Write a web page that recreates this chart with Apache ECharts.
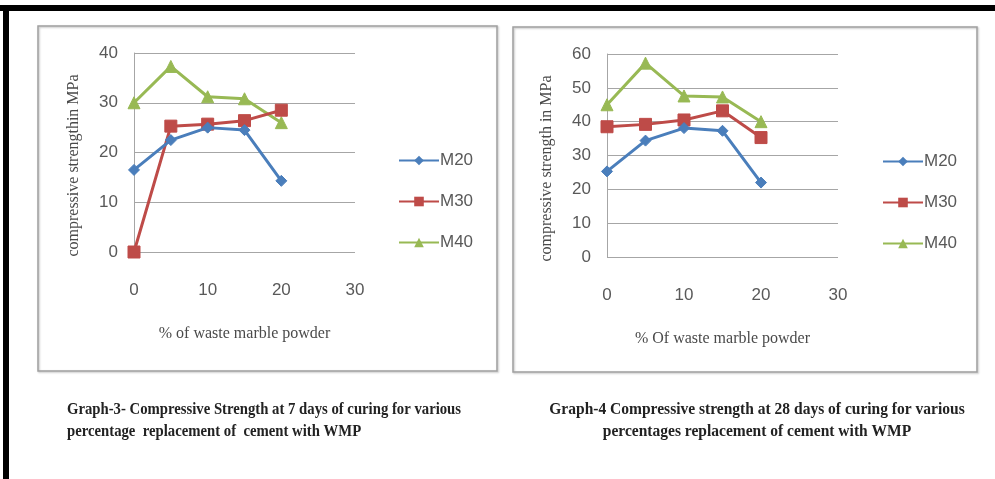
<!DOCTYPE html>
<html>
<head>
<meta charset="utf-8">
<script src="https://cdn.jsdelivr.net/npm/echarts@6/dist/echarts.min.js"></script>
<style>
html,body{margin:0;padding:0;background:#fff;}
#chart{width:995px;height:479px;}
</style>
</head>
<body>
<div id="chart"></div>
<script>
// ---- data ----
var wmpPercent = [0, 5, 10, 15, 20];
var seriesNames = ['M20', 'M30', 'M40'];
// Graph-3: 7 days
var m20_7d = [16.5, 22.5, 25.0, 24.5, 14.3];
var m30_7d = [0.0, 25.3, 25.7, 26.4, 28.5];
var m40_7d = [30.0, 37.3, 31.2, 30.8, 26.0];
// Graph-4: 28 days
var m20_28d = [25.3, 34.4, 38.1, 37.3, 22.0];
var m30_28d = [38.5, 39.2, 40.5, 43.2, 35.3];
var m40_28d = [45.0, 57.3, 47.6, 47.3, 40.0];
var xTicks = [0, 10, 20, 30];
var yTicks7 = [0, 10, 20, 30, 40];
var yTicks28 = [0, 10, 20, 30, 40, 50, 60];
var caption3 = ['Graph-3- Compressive Strength at 7 days of curing for various', 'percentage  replacement of  cement with WMP'];
var caption4 = ['Graph-4 Compressive strength at 28 days of curing for various', 'percentages replacement of cement with WMP'];
var yTitle7 = 'compressive strengthin MPa';
var yTitle28 = 'compressive strength in MPa';
var xTitle7 = '% of waste marble powder';
var xTitle28 = '% Of waste marble powder';

function pairs(vals) { return wmpPercent.map(function (x, i) { return [x, vals[i]]; }); }

var colors = ['#4A7EBB', '#BE4B48', '#98B954'];
var symbols = ['diamond', 'rect', 'triangle'];
var symSizes = [11, 12, 12];
var labelColor = '#595959';
var tickFont = 'Liberation Sans';

function mkSeries(name, vals, idx, axisIdx) {
  return {
    name: name, type: 'line', xAxisIndex: axisIdx, yAxisIndex: axisIdx,
    data: pairs(vals), symbol: symbols[idx], symbolSize: symSizes[idx],
    showAllSymbol: true,
    lineStyle: { color: colors[idx], width: 3 },
    itemStyle: { color: colors[idx], borderColor: colors[idx] },
    animation: false, z: 3 + (2 - idx)
  };
}

function mkX(idx, name) {
  return {
    type: 'value', gridIndex: idx, min: xTicks[0], max: xTicks[xTicks.length - 1], interval: 10,
    name: name, nameLocation: 'middle', nameGap: 74,
    nameTextStyle: { fontFamily: 'Liberation Serif', fontSize: 16, color: '#4a4a4a' },
    axisLine: { show: false }, axisTick: { show: false }, splitLine: { show: false },
    axisLabel: { margin: 30, fontFamily: tickFont, fontSize: 17, color: labelColor }
  };
}
function mkY(idx, ticks, name) {
  return {
    type: 'value', gridIndex: idx, min: ticks[0], max: ticks[ticks.length - 1], interval: 10,
    name: name, nameLocation: 'middle', nameGap: 52,
    nameTextStyle: { fontFamily: 'Liberation Serif', fontSize: 16, color: '#4a4a4a', padding: [0, 26, 0, 0] },
    axisLine: { show: true, lineStyle: { color: '#A6A6A6', width: 1 } },
    axisTick: { show: false },
    splitLine: { show: true, lineStyle: { color: '#A6A6A6', width: 1 } },
    axisLabel: { margin: 16, fontFamily: tickFont, fontSize: 17, color: labelColor }
  };
}

var chart = echarts.init(document.getElementById('chart'), null, { renderer: 'canvas' });
var capStyle = { fontFamily: 'Liberation Serif', fontWeight: 'bold', fontSize: 16, fill: '#222' };

var option = {
  backgroundColor: '#fff',
  animation: false,
  grid: [
    { left: 134, top: 53, width: 221, height: 199 },
    { left: 607, top: 54, width: 231, height: 203 }
  ],
  xAxis: [mkX(0, xTitle7), mkX(1, xTitle28)],
  yAxis: [mkY(0, yTicks7, yTitle7), mkY(1, yTicks28, yTitle28)],
  legend: [
    { orient: 'vertical', left: 393, top: 147, itemGap: 24, itemWidth: 40, itemHeight: 12,
      data: seriesNames, selectedMode: false,
      textStyle: { fontFamily: tickFont, fontSize: 17, color: labelColor, padding: [0, 0, 0, -4] } },
    { orient: 'vertical', left: 877, top: 148, itemGap: 24, itemWidth: 40, itemHeight: 12,
      data: seriesNames, selectedMode: false,
      textStyle: { fontFamily: tickFont, fontSize: 17, color: labelColor, padding: [0, 0, 0, -4] } }
  ],
  graphic: [
    { type: 'rect', shape: { x: 0, y: 5, width: 995, height: 6 }, style: { fill: '#000' }, z: 10 },
    { type: 'rect', shape: { x: 3, y: 5, width: 6, height: 474 }, style: { fill: '#000' }, z: 10 },
    { type: 'rect', shape: { x: 38, y: 26, width: 459, height: 345 }, style: { fill: 'none', stroke: '#A0A0A0', lineWidth: 1.5, shadowColor: 'rgba(0,0,0,0.25)', shadowBlur: 2, shadowOffsetX: 1, shadowOffsetY: 1 }, z: -1 },
    { type: 'rect', shape: { x: 513, y: 27, width: 464, height: 345 }, style: { fill: 'none', stroke: '#A0A0A0', lineWidth: 1.5, shadowColor: 'rgba(0,0,0,0.25)', shadowBlur: 2, shadowOffsetX: 1, shadowOffsetY: 1 }, z: -1 },
    { type: 'text', x: 67, y: 402, scaleX: 0.92, style: Object.assign({ text: caption3[0] }, capStyle) },
    { type: 'text', x: 67, y: 424, scaleX: 0.92, style: Object.assign({ text: caption3[1] }, capStyle) },
    { type: 'text', x: 757, y: 402, scaleX: 0.97, style: Object.assign({ text: caption4[0], textAlign: 'center' }, capStyle) },
    { type: 'text', x: 757, y: 424, scaleX: 0.97, style: Object.assign({ text: caption4[1], textAlign: 'center' }, capStyle) }
  ],
  series: [
    mkSeries('M20', m20_7d, 0, 0),
    mkSeries('M30', m30_7d, 1, 0),
    mkSeries('M40', m40_7d, 2, 0),
    mkSeries('M20', m20_28d, 0, 1),
    mkSeries('M30', m30_28d, 1, 1),
    mkSeries('M40', m40_28d, 2, 1)
  ]
};
chart.setOption(option);
</script>
</body>
</html>
